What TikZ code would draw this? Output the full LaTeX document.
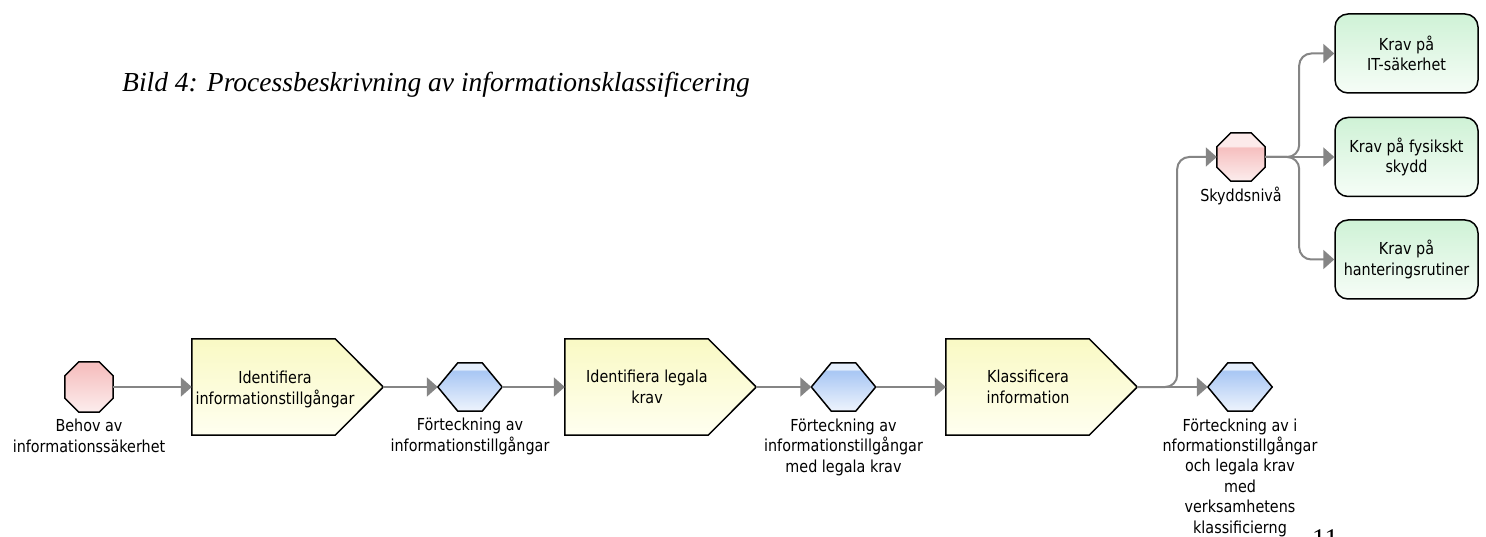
\documentclass[tikz,border=0pt]{standalone}
\usepackage{fontspec}
\newfontfamily\tah{DejaVu Sans}[FakeStretch=0.87]
\newfontfamily\tnr{Liberation Serif}
\usetikzlibrary{arrows.meta,calc}
\definecolor{connc}{HTML}{858585}
\definecolor{pinkmain}{HTML}{F6C0C0}
\definecolor{pinkband}{HTML}{FCEAEA}
\definecolor{pinkbot}{HTML}{FCEDED}
\definecolor{bluemain}{HTML}{A9C7F4}
\definecolor{blueband}{HTML}{E4EEFC}
\definecolor{bluebot}{HTML}{EEF4FD}
\definecolor{yelltop}{HTML}{F9F9C4}
\definecolor{yellbot}{HTML}{FFFFF0}
\definecolor{greentop}{HTML}{CFF2D6}
\definecolor{greenbot}{HTML}{F6FDF7}
\pgfdeclareverticalshading{pinkshade}{100bp}{color(0bp)=(pinkbot); color(25bp)=(pinkbot); color(59bp)=(pinkmain); color(60bp)=(pinkmain); color(61bp)=(pinkband); color(100bp)=(pinkband)}
\pgfdeclareverticalshading{pinkplain}{100bp}{color(0bp)=(pinkbot); color(25bp)=(pinkbot); color(70bp)=(pinkmain); color(100bp)=(pinkmain)}
\pgfdeclareverticalshading{blueshade}{100bp}{color(0bp)=(bluebot); color(25bp)=(bluebot); color(66bp)=(bluemain); color(67bp)=(bluemain); color(68bp)=(blueband); color(100bp)=(blueband)}
\newcommand\procpath[1]{\draw[procdraw] (#1.north west) -- ([xshift=-48pt]#1.north east) -- (#1.east) -- ([xshift=-48pt]#1.south east) -- (#1.south west) -- cycle;}
\newcommand\hexpath[1]{\draw[hexdraw] (#1.west) -- ([xshift=20pt]#1.north west) -- ([xshift=-20pt]#1.north east) -- (#1.east) -- ([xshift=-20pt]#1.south east) -- ([xshift=20pt]#1.south west) -- cycle;}
\newcommand\octpath[2]{\draw[#2] ([yshift=-14pt]#1.north west) -- ([xshift=14pt]#1.north west) -- ([xshift=-14pt]#1.north east) -- ([yshift=-14pt]#1.north east) -- ([yshift=14pt]#1.south east) -- ([xshift=-14pt]#1.south east) -- ([xshift=14pt]#1.south west) -- ([yshift=14pt]#1.south west) -- cycle;}
\tikzset{
  tfont/.style={font={\tah\fontsize{16.5}{20.4}\selectfont}},
  procbox/.style={minimum width=191pt, minimum height=96pt, inner sep=0pt},
  hexbox/.style={minimum width=64pt, minimum height=48pt, inner sep=0pt},
  octbox/.style={minimum width=48pt, minimum height=#1, inner sep=0pt},
  procdraw/.style={draw=black, line width=1.5pt, top color=yelltop, bottom color=yellbot, line join=miter},
  hexdraw/.style={draw=black, line width=1.5pt, shading=blueshade},
  octdraw/.style={draw=black, line width=1.5pt, shading=pinkshade},
  octplain/.style={draw=black, line width=1.5pt, shading=pinkplain},
  reqbox/.style={tfont, align=center, draw=black, line width=1.5pt, rounded corners=13pt, minimum width=143pt, minimum height=79pt, inner sep=0pt, top color=greentop, bottom color=greenbot},
  lbl/.style={tfont, align=center, inner sep=0pt, anchor=base},
  conn/.style={draw=connc, line width=2pt, -{Triangle[length=11pt,width=19pt]}},
}
\begin{document}
\begin{tikzpicture}[x=1pt,y=-1pt]
\useasboundingbox (0,0) rectangle (1486,537);
\clip (0,0) rectangle (1486,537);
\fill[white] (0,0) rectangle (1486,537);
\node[font={\tnr\itshape\fontsize{27.5}{30}\selectfont}, anchor=base west, inner sep=0pt] (title) at (122,92) {Bild 4: Processbeskrivning av informationsklassificering};
% shapes
\node[octbox=50pt] (o1) at (89,387) {};
\octpath{o1}{octplain}
\node[procbox] (p1) at (287.5,387) {};
\procpath{p1}
\node[hexbox] (h1) at (470,387) {};
\hexpath{h1}
\node[procbox] (p2) at (660.5,387) {};
\procpath{p2}
\node[hexbox] (h2) at (843.5,387) {};
\hexpath{h2}
\node[procbox] (p3) at (1041.5,387) {};
\procpath{p3}
\node[hexbox] (h3) at (1240,387) {};
\hexpath{h3}
\node[octbox=48pt] (sky) at (1241,157) {};
\octpath{sky}{octdraw}
\node[reqbox] (b1) at (1406.5,53.5) {Krav på\\IT-säkerhet};
\node[reqbox] (b2) at (1406.5,157) {Krav på fysikskt\\skydd};
\node[reqbox] (b3) at (1406.5,259.5) {Krav på\\hanteringsrutiner};
% texts (base = baseline of last line)
\node[lbl] (p1t) at (275,404) {Identifiera\\informationstillgångar};
\node[lbl] (p2t) at (647,403) {Identifiera legala\\krav};
\node[lbl] (p3t) at (1028,403) {Klassificera\\information};
\node[lbl] (o1l) at (89,452) {Behov av\\informationssäkerhet};
\node[lbl] (h1l) at (470,451) {Förteckning av\\informationstillgångar};
\node[lbl] (h2l) at (843.5,472) {Förteckning av\\informationstillgångar\\med legala krav};
\node[lbl] (h3l) at (1240,533) {Förteckning av i\\nformationstillgångar\\och legala krav\\med\\verksamhetens\\klassificierng};
\node[lbl] (skyl) at (1241,202) {Skyddsnivå};
\node[font={\tnr\fontsize{27}{30}\selectfont}, anchor=base west, inner sep=0pt] (pg) at (1312,547) {11};
% connectors
\draw[conn] (o1.east) -- (p1.west);
\draw[conn] (p1.east) -- (h1.west);
\draw[conn] (h1.east) -- (p2.west);
\draw[conn] (p2.east) -- (h2.west);
\draw[conn] (h2.east) -- (p3.west);
\draw[conn] (p3.east) -- (h3.west);
\draw[conn, rounded corners=12pt] (p3.east) -- ++(40,0) |- (sky.west);
\draw[conn] (sky.east) -- (b2.west);
\draw[conn, rounded corners=12pt] (sky.east) -- ++(34,0) |- (b1.west);
\draw[conn, rounded corners=12pt] (sky.east) -- ++(34,0) |- (b3.west);
\end{tikzpicture}
\end{document}
